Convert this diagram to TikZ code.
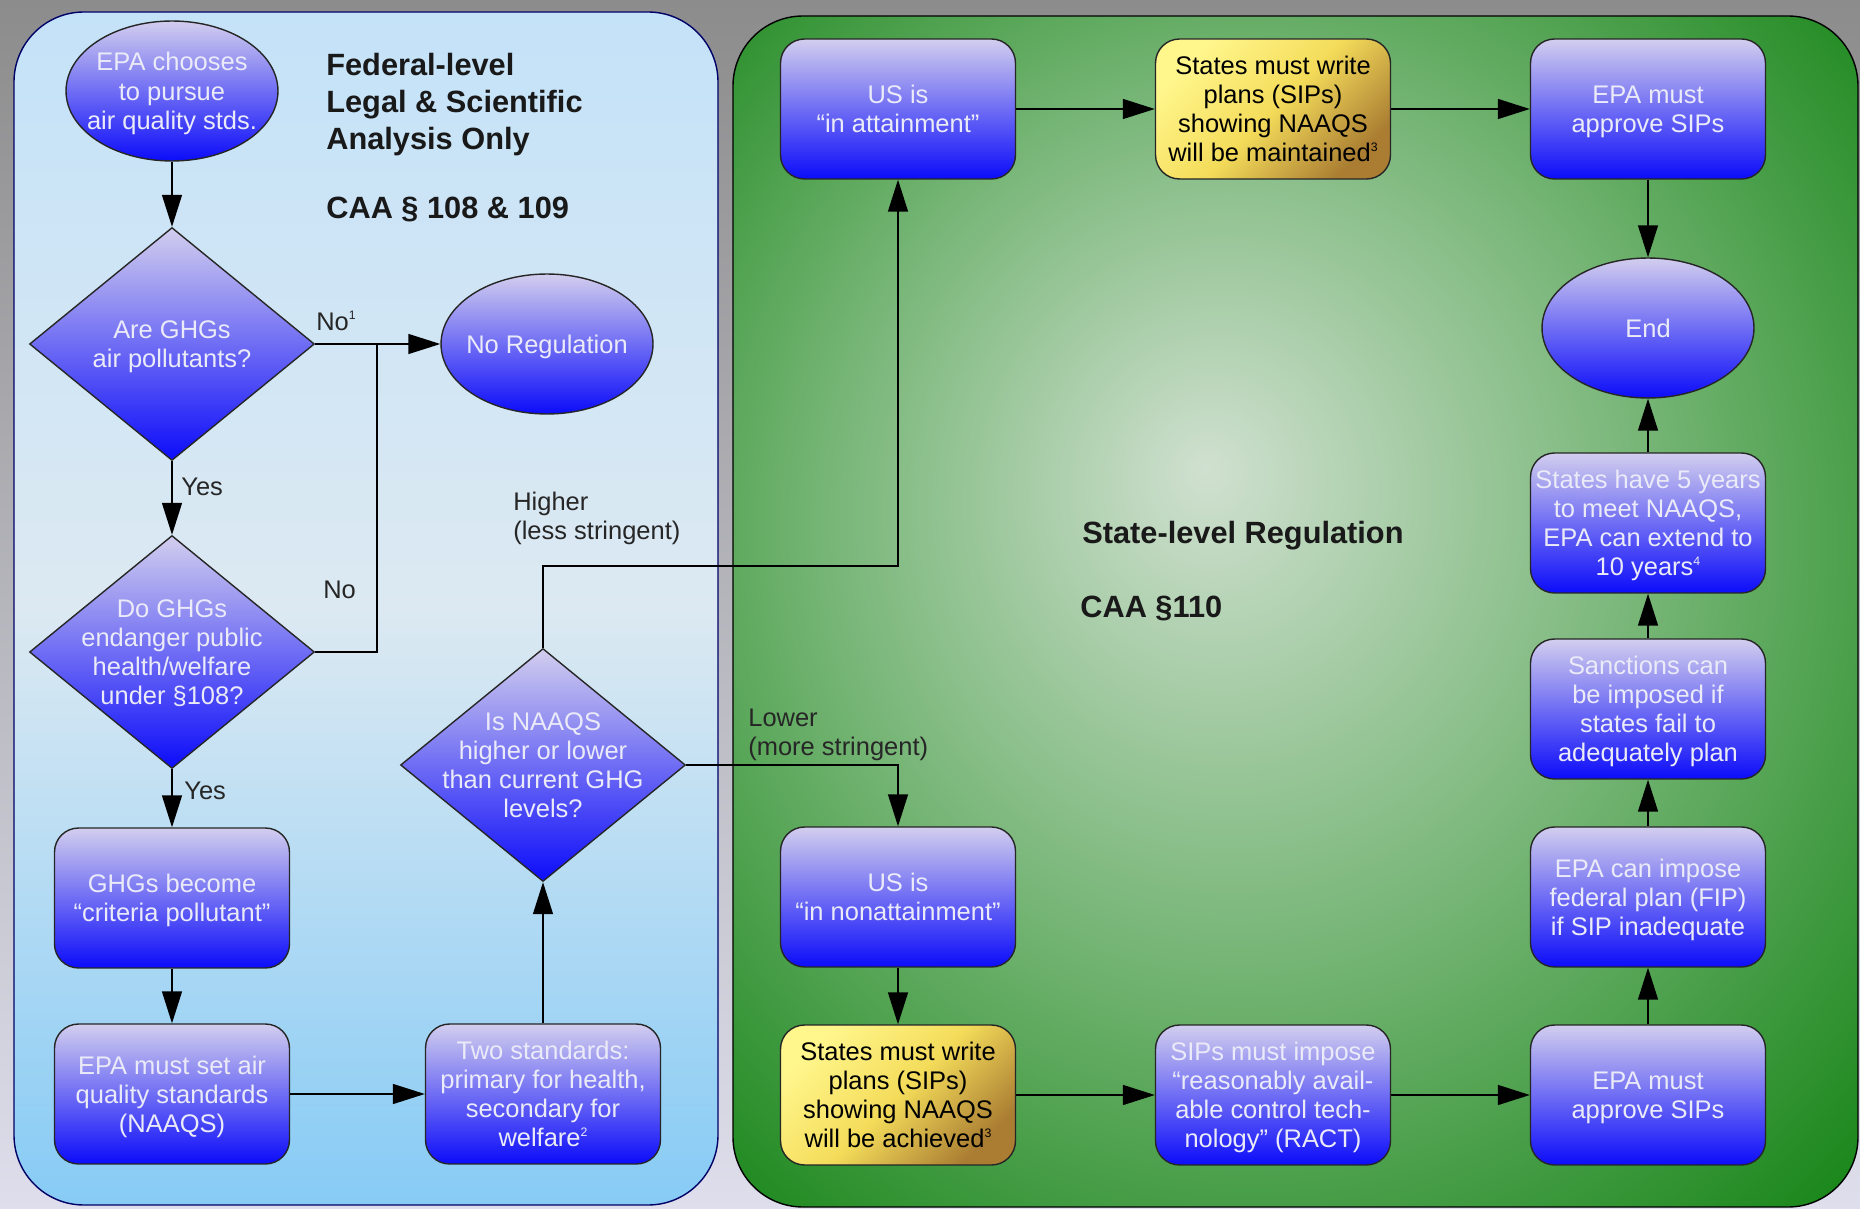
\documentclass[tikz,border=0pt]{standalone}
\usepackage{fontspec}
\setmainfont{Liberation Sans}
\usetikzlibrary{shapes,arrows.meta}

\definecolor{nodetop}{RGB}{210,206,238}
\definecolor{nodebot}{RGB}{12,12,250}
\definecolor{nodetxt}{RGB}{234,234,248}
\definecolor{goldtop}{RGB}{255,246,140}
\definecolor{goldmid}{RGB}{244,220,90}
\definecolor{goldbot}{RGB}{170,125,50}
\definecolor{pagetop}{RGB}{140,140,140}
\definecolor{pagebot}{RGB}{222,222,236}
\definecolor{fedtop}{RGB}{196,226,248}
\definecolor{fedmid}{RGB}{220,233,242}
\definecolor{fedbot}{RGB}{135,203,245}
\definecolor{statein}{RGB}{208,224,208}
\definecolor{statemid}{RGB}{120,182,120}
\definecolor{stateout}{RGB}{28,136,28}
\pgfdeclareradialshading{stateglow}{\pgfpoint{-4bp}{6bp}}{color(0bp)=(statein); color(18bp)=(statemid); color(36bp)=(stateout); color(50bp)=(stateout)}

\newcommand{\ntext}[1]{\makebox[0pt]{\smash{\raisebox{-5.5pt}{\begin{tabular}{@{}c@{}}#1\end{tabular}}}}}
\newcommand{\fnum}[1]{\raisebox{0.8ex}{\fontsize{7}{7}\selectfont #1}}

\begin{document}
\begin{tikzpicture}[x=0.02cm, y=-0.02cm]
\tikzstyle{every node}=[font=\fontsize{14.5}{16.6}\selectfont]
\tikzstyle{bluefill}=[draw=black!85, line width=0.8pt, top color=nodetop,
                      bottom color=nodebot, text=nodetxt, inner sep=0pt]
\tikzstyle{proc}=[bluefill, rectangle, rounded corners=0.48cm,
                  minimum width=4.7cm, minimum height=2.8cm]
\tikzstyle{plan}=[draw=black!85, line width=0.8pt, rectangle, rounded corners=0.48cm,
                  minimum width=4.7cm, minimum height=2.8cm, inner sep=0pt,
                  top color=goldtop, bottom color=goldbot, middle color=goldmid,
                  shading angle=45, text=black]
\tikzstyle{term}=[bluefill, ellipse, minimum width=4.24cm, minimum height=2.8cm]
\tikzstyle{decide}=[bluefill, diamond, minimum width=5.7cm, minimum height=4.66cm]
\tikzstyle{head}=[font=\bfseries\fontsize{17.5}{21}\selectfont, text=black!90, inner sep=0pt]
\tikzstyle{lbl}=[text=black!85, inner sep=0pt]
\tikzstyle{arr}=[-{Triangle[length=0.64cm,width=0.4cm]}, line width=0.8pt]
\tikzstyle{link}=[line width=0.8pt]

\useasboundingbox (0,0) rectangle (1860,1209);
\fill[top color=pagetop, bottom color=pagebot] (0,0) rectangle (1860,1209);
\draw[draw=black!60!blue, line width=0.8pt, top color=fedtop, bottom color=fedbot,
      middle color=fedmid, rounded corners=1.4cm] (14,12) rectangle (718,1205);
\shadedraw[draw=black, line width=0.8pt, shading=stateglow, rounded corners=1.4cm]
      (733,16) rectangle (1858,1207);

\node[head, anchor=north west, align=left] (fedtitle) at (326,53)
      {Federal-level\\Legal \& Scientific\\Analysis Only};
\node[head, anchor=west] (fedcaa) at (326,209) {CAA § 108 \& 109};
\node[head, anchor=west] (statetitle) at (1082,536) {State-level Regulation};
\node[head, anchor=west] (statecaa) at (1080,608) {CAA §110};

\node[term] (epa) at (172,91) {\ntext{EPA chooses\\to pursue\\air quality stds.}};
\node[decide] (pollut) at (172,344) {\ntext{Are GHGs\\air pollutants?}};
\node[term] (noreg) at (547,344) {\ntext{No Regulation}};
\node[decide] (endanger) at (172,652)
      {\ntext{Do GHGs\\endanger public\\health/welfare\\under §108?}};
\node[proc] (criteria) at (172,898) {\ntext{GHGs become\\“criteria pollutant”}};
\node[proc] (setstd) at (172,1094) {\ntext{EPA must set air\\quality standards\\(NAAQS)}};
\node[proc] (twostd) at (543,1094)
      {\ntext{Two standards:\\primary for health,\\secondary for\\welfare\fnum{2}}};
\node[decide] (compare) at (543,765)
      {\ntext{Is NAAQS\\higher or lower\\than current GHG\\levels?}};

\node[proc] (attain) at (898,109) {\ntext{US is\\“in attainment”}};
\node[plan] (sipmaint) at (1273,109)
      {\ntext{States must write\\plans (SIPs)\\showing NAAQS\\will be maintained\fnum{3}}};
\node[proc] (approvetop) at (1648,109) {\ntext{EPA must\\approve SIPs}};
\node[term] (finish) at (1648,328) {\ntext{End}};
\node[proc] (deadline) at (1648,523)
      {\ntext{States have 5 years\\to meet NAAQS,\\EPA can extend to\\10 years\fnum{4}}};
\node[proc] (sanction) at (1648,709)
      {\ntext{Sanctions can\\be imposed if\\states fail to\\adequately plan}};
\node[proc] (fedplan) at (1648,897)
      {\ntext{EPA can impose\\federal plan (FIP)\\if SIP inadequate}};
\node[proc] (approvebot) at (1648,1095) {\ntext{EPA must\\approve SIPs}};
\node[proc] (nonattain) at (898,897) {\ntext{US is\\“in nonattainment”}};
\node[plan] (sipachieve) at (898,1095)
      {\ntext{States must write\\plans (SIPs)\\showing NAAQS\\will be achieved\fnum{3}}};
\node[proc] (ract) at (1273,1095)
      {\ntext{SIPs must impose\\“reasonably avail-\\able control tech-\\nology” (RACT)}};

\node[lbl, anchor=west] (nolbla) at (316,321) {No\fnum{1}};
\node[lbl, anchor=west] (yeslbla) at (181,487) {Yes};
\node[lbl, anchor=west] (nolblb) at (323,590) {No};
\node[lbl, anchor=west] (yeslblb) at (184,791) {Yes};
\node[lbl, anchor=west, align=left] (hilbl) at (513,518) {Higher\\(less stringent)};
\node[lbl, anchor=west, align=left] (lolbl) at (748,735) {Lower\\(more stringent)};

\coordinate (join) at (377,344);
\coordinate (upbend) at (543,566);

\draw[arr] (epa) -- (pollut);
\draw[arr] (pollut) -- (noreg);
\draw[link] (endanger) -| (join);
\draw[arr] (pollut) -- (endanger);
\draw[arr] (endanger) -- (criteria);
\draw[arr] (criteria) -- (setstd);
\draw[arr] (setstd) -- (twostd);
\draw[arr] (twostd) -- (compare);
\draw[arr] (compare) -- (upbend) -| (attain);
\draw[arr] (compare) -| (nonattain);
\draw[arr] (attain) -- (sipmaint);
\draw[arr] (sipmaint) -- (approvetop);
\draw[arr] (approvetop) -- (finish);
\draw[arr] (nonattain) -- (sipachieve);
\draw[arr] (sipachieve) -- (ract);
\draw[arr] (ract) -- (approvebot);
\draw[arr] (approvebot) -- (fedplan);
\draw[arr] (fedplan) -- (sanction);
\draw[arr] (sanction) -- (deadline);
\draw[arr] (deadline) -- (finish);
\end{tikzpicture}
\end{document}
